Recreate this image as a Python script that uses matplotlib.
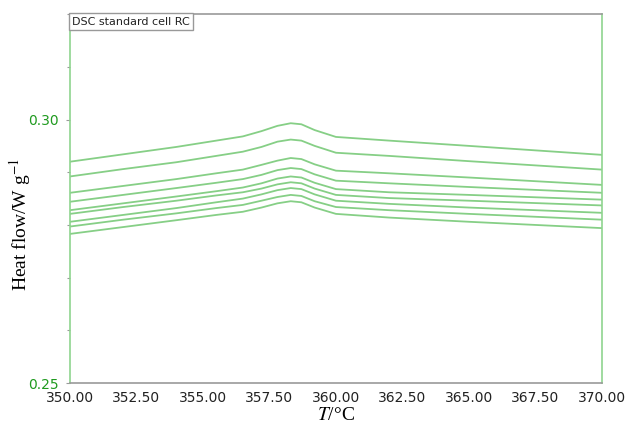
import numpy as np
import matplotlib
matplotlib.use("Agg")
import matplotlib.pyplot as plt
from matplotlib.ticker import MultipleLocator, FormatStrFormatter

plt.rcParams["mathtext.fontset"] = "stix"
plt.rcParams["font.serif"] = ["Liberation Serif", "DejaVu Serif"]

# temperature grid (deg C)
temp = [350.0, 352.0, 354.0, 355.5, 356.5, 357.2, 357.8, 358.3, 358.7, 359.2, 360.0, 362.0, 365.0, 370.0]

# heat flow curves, W/g (top to bottom)
run1 = [0.2920, 0.2934, 0.2948, 0.2960, 0.2968, 0.2978, 0.2988, 0.2993, 0.2991, 0.2980, 0.2967, 0.2960, 0.2950, 0.2933]
run2 = [0.2892, 0.2906, 0.2919, 0.2931, 0.2939, 0.2948, 0.2958, 0.2962, 0.2960, 0.2950, 0.2937, 0.2931, 0.2921, 0.2905]
run3 = [0.2861, 0.2874, 0.2887, 0.2898, 0.2905, 0.2914, 0.2922, 0.2927, 0.2925, 0.2915, 0.2903, 0.2898, 0.2890, 0.2876]
run4 = [0.2844, 0.2857, 0.2870, 0.2880, 0.2887, 0.2895, 0.2904, 0.2908, 0.2906, 0.2896, 0.2884, 0.2879, 0.2872, 0.2861]
run5 = [0.2828, 0.2841, 0.2854, 0.2864, 0.2871, 0.2879, 0.2888, 0.2892, 0.2890, 0.2880, 0.2868, 0.2862, 0.2857, 0.2848]
run6 = [0.2821, 0.2834, 0.2846, 0.2856, 0.2862, 0.2869, 0.2877, 0.2881, 0.2879, 0.2869, 0.2857, 0.2851, 0.2846, 0.2837]
run7 = [0.2806, 0.2819, 0.2832, 0.2843, 0.2850, 0.2858, 0.2866, 0.2870, 0.2868, 0.2858, 0.2846, 0.2840, 0.2833, 0.2823]
run8 = [0.2797, 0.2810, 0.2822, 0.2832, 0.2838, 0.2846, 0.2853, 0.2857, 0.2855, 0.2845, 0.2834, 0.2828, 0.2821, 0.2810]
run9 = [0.2783, 0.2796, 0.2809, 0.2819, 0.2825, 0.2833, 0.2841, 0.2845, 0.2843, 0.2833, 0.2821, 0.2814, 0.2806, 0.2794]

runs = [run1, run2, run3, run4, run5, run6, run7, run8, run9]

line_green = "#86cf86"
tick_green = "#1f9a1f"

fig = plt.figure(figsize=(6.25, 4.28), dpi=100)
ax = fig.add_axes([0.112, 0.105, 0.851, 0.862])

for r in runs:
    ax.plot(temp, r, color=line_green, lw=1.3)

ax.set_xlim(350, 370)
ax.set_ylim(0.25, 0.32)

ax.xaxis.set_major_locator(MultipleLocator(2.5))
ax.xaxis.set_major_formatter(FormatStrFormatter("%.2f"))
ax.yaxis.set_major_locator(MultipleLocator(0.05))
ax.yaxis.set_minor_locator(MultipleLocator(0.01))
ax.yaxis.set_major_formatter(FormatStrFormatter("%.2f"))

ax.tick_params(axis="x", length=0, pad=6, labelsize=10, labelcolor="#222222")
ax.tick_params(axis="y", which="major", length=3, width=0.8, color="#9a9a9a",
               labelsize=10, labelcolor=tick_green, pad=5)
ax.tick_params(axis="y", which="minor", length=2, width=0.8, color="#9a9a9a")

for side in ["left", "right"]:
    ax.spines[side].set_color("#8fd48f")
    ax.spines[side].set_linewidth(1.2)
for side in ["top", "bottom"]:
    ax.spines[side].set_color("#999999")
    ax.spines[side].set_linewidth(1.2)

ax.set_xlabel("$T$/°C", family="serif", fontsize=14, labelpad=1)
ax.set_ylabel("Heat flow/W g$^{-1}$", family="serif", fontsize=14)
ax.yaxis.set_label_coords(-0.07, 0.43)

ax.text(0.004, 0.993, "DSC standard cell RC", transform=ax.transAxes,
        fontsize=8, ha="left", va="top", color="#222222",
        bbox=dict(boxstyle="square,pad=0.3", fc="white", ec="#999999", lw=1.0))

fig.savefig("out.png", dpi=100)
